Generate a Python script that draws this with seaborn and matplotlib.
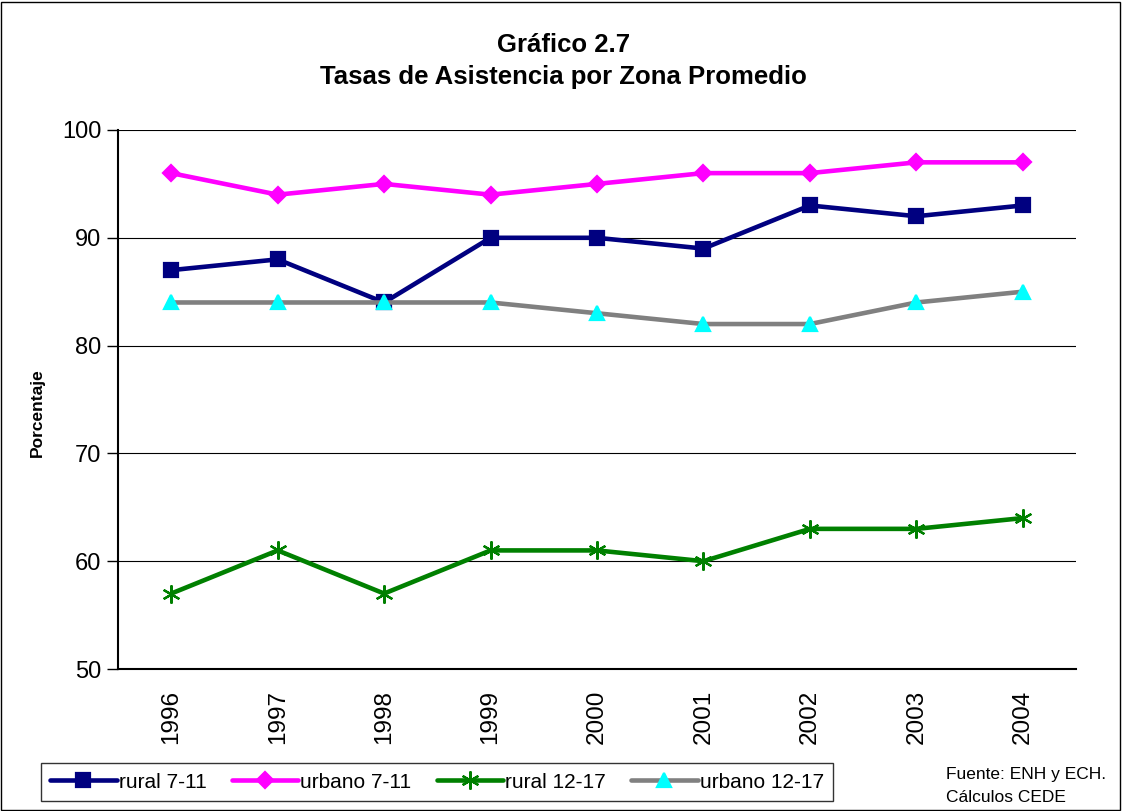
import matplotlib
matplotlib.use('Agg')
import matplotlib.pyplot as plt
from matplotlib.patches import Rectangle
from matplotlib.lines import Line2D
import numpy as np
import pandas as pd
import seaborn as sns

years = ['1996', '1997', '1998', '1999', '2000', '2001', '2002', '2003', '2004']
rural_7_11 = [87, 88, 84, 90, 90, 89, 93, 92, 93]
urbano_7_11 = [96, 94, 95, 94, 95, 96, 96, 97, 97]
rural_12_17 = [57, 61, 57, 61, 61, 60, 63, 63, 64]
urbano_12_17 = [84, 84, 84, 84, 83, 82, 82, 84, 85]

series = [
    # name, values, line colour, marker, marker colour, marker size
    ('rural 7-11', rural_7_11, '#000080', 's', '#000080', 10),
    ('urbano 7-11', urbano_7_11, '#FF00FF', 'D', '#FF00FF', 8),
    ('rural 12-17', rural_12_17, '#008000', (6, 2, 0), '#008000', 13),
    ('urbano 12-17', urbano_12_17, '#808080', '^', '#00FFFF', 10),
]

sns.set_style('white')
plt.rcParams['font.family'] = ['Liberation Sans', 'DejaVu Sans']
plt.rcParams['text.color'] = 'black'
plt.rcParams['xtick.color'] = 'black'
plt.rcParams['ytick.color'] = 'black'

fig = plt.figure(figsize=(11.22, 8.11), dpi=100)
ax = fig.add_axes([118/1122, 1 - 669/811, (1076 - 118)/1122, (669 - 130)/811])

idx = np.arange(len(years))
handles = []
# draw grey line before navy so the navy line sits on top like excel
order = [3, 0, 1, 2]
for i in order:
    name, vals, col, mk, mcol, ms = series[i]
    df = pd.DataFrame({'x': idx, 'y': vals})
    sns.lineplot(data=df, x='x', y='y', ax=ax, color=col, linewidth=3.3,
                 marker=mk, markersize=ms, markerfacecolor=mcol,
                 markeredgecolor=mcol, markeredgewidth=1.6, zorder=3 + i)
for name, vals, col, mk, mcol, ms in series:
    handles.append(Line2D([], [], color=col, linewidth=3.3, marker=mk, markersize=ms,
                          markerfacecolor=mcol, markeredgecolor=mcol,
                          markeredgewidth=1.6, label=name))

ax.set_xlim(-0.5, len(years) - 0.5)
ax.set_ylim(50, 100)
ax.set_yticks([50, 60, 70, 80, 90, 100])
ax.set_yticklabels(['50', '60', '70', '80', '90', '100'], fontsize=17)
ax.set_xticks(idx)
ax.set_xticklabels(years, rotation=90, fontsize=17.5)
ax.set_xticks(np.arange(-0.5, len(years)), minor=True)
ax.tick_params(axis='x', which='major', length=0, pad=15)
ax.tick_params(axis='x', which='minor', length=8, width=1, color='black', direction='out')
ax.tick_params(axis='y', which='major', length=8, width=1, color='black', direction='out', pad=4, left=True)
ax.set_xlabel('')
ax.set_ylabel('')
ax.yaxis.grid(True, color='black', linewidth=0.8)
ax.set_axisbelow(True)
for s in ['top', 'right']:
    ax.spines[s].set_visible(False)
for s in ['left', 'bottom']:
    ax.spines[s].set_color('black')
    ax.spines[s].set_linewidth(1.5)

fig.text(0.502, 1 - 61/811, 'Gráfico 2.7\nTasas de Asistencia por Zona Promedio',
         ha='center', va='center', fontsize=18.5, fontweight='bold', linespacing=1.4)
fig.text(37/1122, 1 - 413/811, 'Porcentaje', rotation=90, ha='center', va='center',
         fontsize=12.5, fontweight='bold')
fig.text(946/1122, 1 - 775/811, 'Fuente: ENH y ECH.', ha='left', va='center', fontsize=12.5)
fig.text(946/1122, 1 - 797/811, 'Cálculos CEDE', ha='left', va='center', fontsize=12.5)

leg = fig.legend(handles=handles, loc='center', ncol=4,
                 bbox_to_anchor=(437/1122, 1 - 782/811), fontsize=15,
                 frameon=True, fancybox=False, shadow=False, handlelength=3.2,
                 handletextpad=0.1, columnspacing=1.2, borderpad=0.45)
leg.get_frame().set_edgecolor('black')
leg.get_frame().set_linewidth(1)

fig.patches.append(Rectangle((0.001, 0.001), 0.997, 0.997, transform=fig.transFigure,
                             fill=False, edgecolor='black', linewidth=1))

fig.savefig('out.png', dpi=100)
